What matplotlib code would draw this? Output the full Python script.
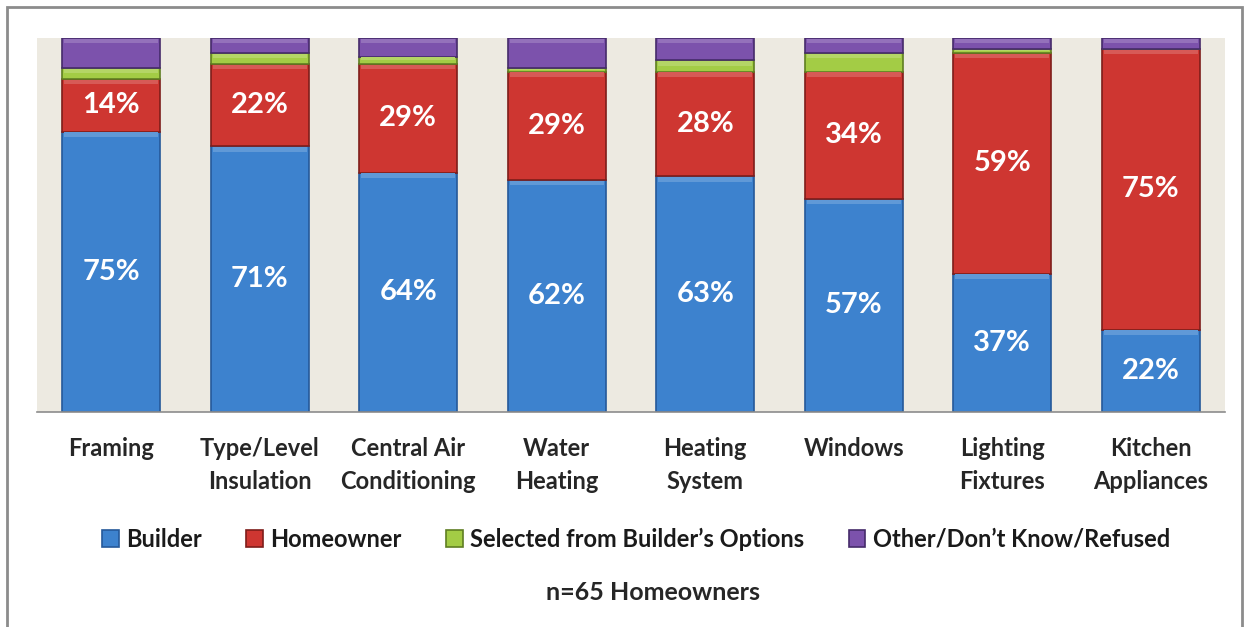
import numpy as np
import matplotlib.pyplot as plt
from matplotlib.patches import Rectangle
from matplotlib.colors import to_rgb

plt.rcParams['font.family'] = ['Lato', 'DejaVu Sans']

categories = ['Framing', 'Type/Level\nInsulation', 'Central Air\nConditioning', 'Water\nHeating',
              'Heating\nSystem', 'Windows', 'Lighting\nFixtures', 'Kitchen\nAppliances']
builder = [75, 71, 64, 62, 63, 57, 37, 22]
homeowner = [14, 22, 29, 29, 28, 34, 59, 75]
selected = [3, 3, 2, 1, 3, 5, 1, 0]
other = [8, 4, 5, 8, 6, 4, 3, 3]

series = [
    ('Builder', builder, '#3D82CE', '#25599A', True),
    ('Homeowner', homeowner, '#CE3631', '#7E1D1A', True),
    ('Selected from Builder\u2019s Options', selected, '#A3CC45', '#5F7E22', False),
    ('Other/Don\u2019t Know/Refused', other, '#7C52AC', '#452B6A', False),
]


def lighten(c, f):
    r, g, b = to_rgb(c)
    return (r + (1 - r) * f, g + (1 - g) * f, b + (1 - b) * f)


fig = plt.figure(figsize=(12.52, 6.27), dpi=100)
ax = fig.add_axes([37 / 1252, 1 - 412 / 627, 1188 / 1252, 374 / 627])
ax.set_facecolor('#EDEAE1')

x = np.arange(len(categories))
width = 0.66
bottom = np.zeros(len(categories))
for name, vals, face, edge, show in series:
    vals = np.array(vals, dtype=float)
    ax.bar(x, vals, width, bottom=bottom, color=face, edgecolor=edge,
           linewidth=1.2, label=name, zorder=2)
    # soft bevel highlight just under the top edge of each segment
    hl = np.minimum(vals * 0.4, 1.2)
    ax.bar(x, hl, width * 0.96, bottom=bottom + vals - hl - 0.2,
           color=lighten(face, 0.18), linewidth=0, zorder=2.5)
    if show:
        for xi, b, v in zip(x, bottom, vals):
            ax.text(xi, b + v / 2, f'{v:.0f}%', ha='center', va='center',
                    color='white', fontsize=21, fontweight='bold', zorder=3)
    bottom += vals

ax.set_xlim(-0.5, len(categories) - 0.5)
ax.set_ylim(0, bottom.max())
ax.set_yticks([])
ax.set_xticks([])
for side in ['top', 'left', 'right']:
    ax.spines[side].set_visible(False)
ax.spines['bottom'].set_color('#8C8C8C')
ax.spines['bottom'].set_linewidth(1.2)

# category names under the bars
for xi, name in zip(x, categories):
    ax.text(xi, -0.068, name, transform=ax.get_xaxis_transform(), ha='center', va='top',
            fontsize=17, fontweight='bold', color='#262626', linespacing=1.52)

fig.legend(loc='center', bbox_to_anchor=(0.508, 1 - 539 / 627), ncol=4, frameon=False,
           prop={'weight': 'bold', 'size': 17}, handlelength=0.7, handleheight=0.7,
           handletextpad=0.3, columnspacing=1.9, labelcolor='#1A1A1A')

fig.text(0.5215, 1 - 593 / 627, 'n=65 Homeowners', ha='center', va='center',
         fontsize=18, fontweight='bold', color='#262626')

# outer frame
fig.patches.append(Rectangle((7 / 1252, -0.1), 1235 / 1252, 1.1 - 7 / 627,
                             transform=fig.transFigure, fill=False,
                             edgecolor='#8C8C8C', linewidth=2))

fig.savefig('out.png', dpi=100, facecolor='white')
